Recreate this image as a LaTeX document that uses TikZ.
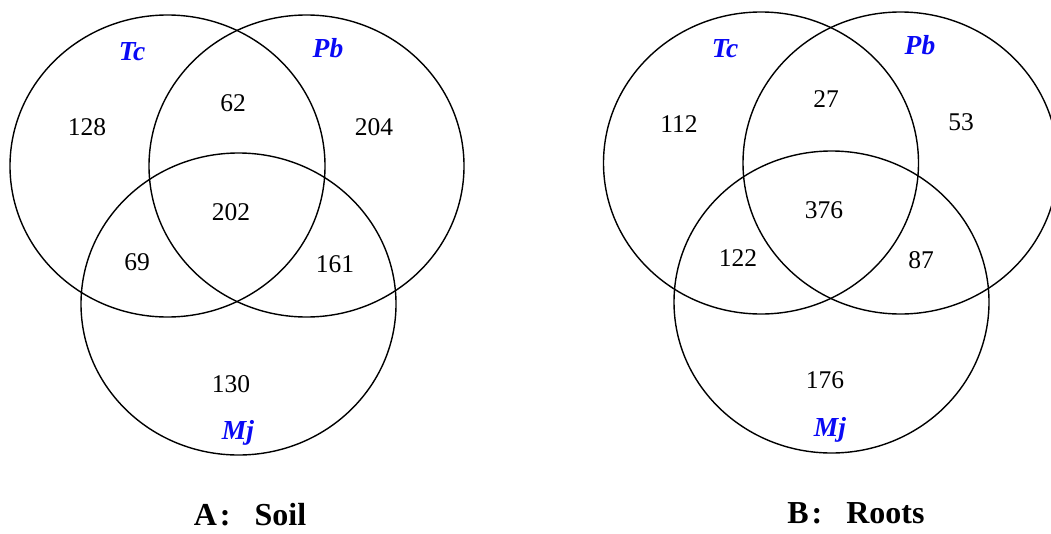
\documentclass[tikz,border=0pt]{standalone}
\usepackage{fontspec}
\setmainfont{Liberation Serif}
\usetikzlibrary{shapes.geometric}
\definecolor{setblue}{RGB}{10,10,245}
\tikzset{
  setring/.style={draw=black, line width=1.4pt, ellipse, inner sep=0pt,
                  minimum width=315pt, minimum height=302pt},
  count/.style={font=\fontsize{25.5}{25.5}\selectfont, text=black},
  setname/.style={font=\fontsize{27.5}{27.5}\selectfont\bfseries\itshape, text=setblue},
  caption/.style={font=\fontsize{32}{32}\selectfont\bfseries, inner sep=0pt}
}
\begin{document}
\begin{tikzpicture}[x=1pt,y=-1pt]
  \useasboundingbox (0,0) rectangle (1051,533);
  \clip (0,0) rectangle (1051,533);

  % Soil
  \node[setring] (tcA) at (167.5,166) {};
  \node[setring] (pbA) at (306.5,166) {};
  \node[setring] (mjA) at (238.5,304) {};
  \node[setname] (tcAlab) at (132,52) {Tc};
  \node[setname] (pbAlab) at (328,48) {Pb};
  \node[setname] (mjAlab) at (238,433) {Mj};
  \node[count] (a1) at (87,127) {128};
  \node[count] (a2) at (233,103) {62};
  \node[count] (a3) at (374,127) {204};
  \node[count] (a4) at (231,212) {202};
  \node[count] (a5) at (137,262) {69};
  \node[count] (a6) at (335,264) {161};
  \node[count] (a7) at (231,384) {130};
  \node[caption] (capA) at (250,515) {A\hspace{3pt}:\hspace{24pt}Soil};

  % Roots
  \node[setring] (tcB) at (761,163) {};
  \node[setring] (pbB) at (900.5,163) {};
  \node[setring] (mjB) at (831.5,302) {};
  \node[setname] (tcBlab) at (725,49) {Tc};
  \node[setname] (pbBlab) at (920,45) {Pb};
  \node[setname] (mjBlab) at (830,430) {Mj};
  \node[count] (b1) at (679,124) {112};
  \node[count] (b2) at (826,99) {27};
  \node[count] (b3) at (961,122) {53};
  \node[count] (b4) at (824,210) {376};
  \node[count] (b5) at (738,258) {122};
  \node[count] (b6) at (921,260) {87};
  \node[count] (b7) at (825,380) {176};
  \node[caption] (capB) at (856,513) {B\hspace{3pt}:\hspace{24pt}Roots};
\end{tikzpicture}
\end{document}
